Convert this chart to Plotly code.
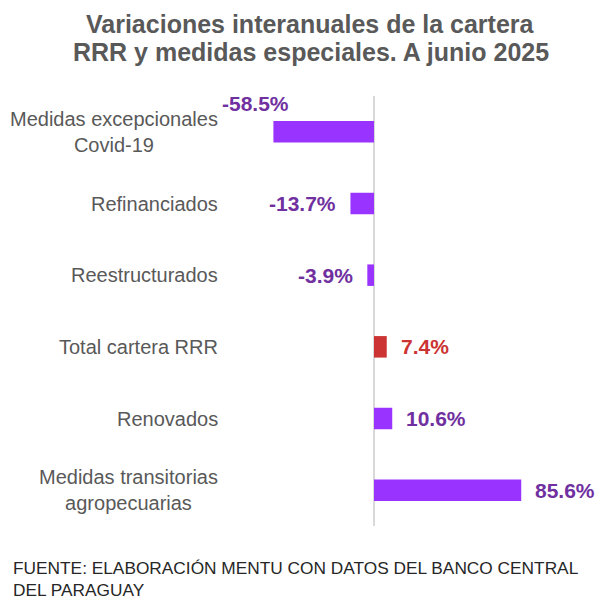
import plotly.graph_objects as go

categories = ["Medidas excepcionales<br>Covid-19", "Refinanciados", "Reestructurados",
              "Total cartera RRR", "Renovados", "Medidas transitorias<br>agropecuarias"]
values = [-58.5, -13.7, -3.9, 7.4, 10.6, 85.6]
highlight = "Total cartera RRR"

title_lines = ["Variaciones interanuales de la cartera",
               "RRR y medidas especiales. A junio 2025"]
source_text = "FUENTE: ELABORACIÓN MENTU CON DATOS DEL BANCO CENTRAL<br>DEL PARAGUAY"

PURPLE = "#9933FF"
RED = "#CC3333"
LBL_PURPLE = "#7030A0"
GRAY = "#595959"
FONT = "Liberation Sans, Arial, sans-serif"

bar_colors = [RED if c == highlight else PURPLE for c in categories]
label_colors = [RED if c == highlight else LBL_PURPLE for c in categories]

# page has an 8px body margin, so figure is 600x599 placed at (8,8)
W, H = 600, 599
ML, MR, MT, MB = 220, 8, 88, 81
PW, PH = W - ML - MR, H - MT - MB


def px_x(x):  # reference pixel -> paper x
    return (x - 8 - ML) / PW


def px_y(y):  # reference pixel -> paper y
    return (H - MB - (y - 8)) / PH


fig = go.Figure(go.Bar(
    x=values, y=categories, orientation="h",
    marker=dict(color=bar_colors, line=dict(width=0)),
    width=0.3, hoverinfo="skip",
))

annotations = []
for i, (c, v) in enumerate(zip(categories, values)):
    lab = dict(x=v, y=c, xref="x", yref="y", text=f"{v:.1f}%", showarrow=False,
               font=dict(family=FONT, size=21, color=label_colors[i], weight="bold"))
    if i == 0:
        lab.update(xanchor="right", xshift=18, yshift=28)
    else:
        lab.update(xanchor="left" if v > 0 else "right", xshift=12 if v > 0 else -12)
    annotations.append(lab)
    annotations.append(dict(x=0, y=c, xref="paper", yref="y", text=c, showarrow=False,
                            xanchor="right", xshift=-8, align="center",
                            font=dict(family=FONT, size=20, color=GRAY)))

for line, yc in zip(title_lines, [24, 52]):
    annotations.append(dict(x=px_x(310.5), y=px_y(yc), xref="paper", yref="paper",
                            xanchor="center", yanchor="middle", text=line, showarrow=False,
                            font=dict(family=FONT, size=25, color=GRAY, weight="bold")))

annotations.append(dict(
    x=px_x(11), y=px_y(556), xref="paper", yref="paper", xanchor="left", yanchor="top",
    align="left", showarrow=False, text=source_text,
    font=dict(family=FONT, size=17.3, color="#262626"),
))

fig.update_layout(
    width=W, height=H,
    margin=dict(l=ML, r=MR, t=MT, b=MB),
    paper_bgcolor="white", plot_bgcolor="white",
    showlegend=False,
    xaxis=dict(range=[-84.9, 131.4], showgrid=False, showticklabels=False, ticks="",
               zeroline=True, zerolinecolor="#D9D9D9", zerolinewidth=2, fixedrange=True),
    yaxis=dict(type="category", autorange="reversed", showticklabels=False, ticks="",
               showgrid=False, zeroline=False, fixedrange=True),
    annotations=annotations,
)

fig.write_html("out.html")
